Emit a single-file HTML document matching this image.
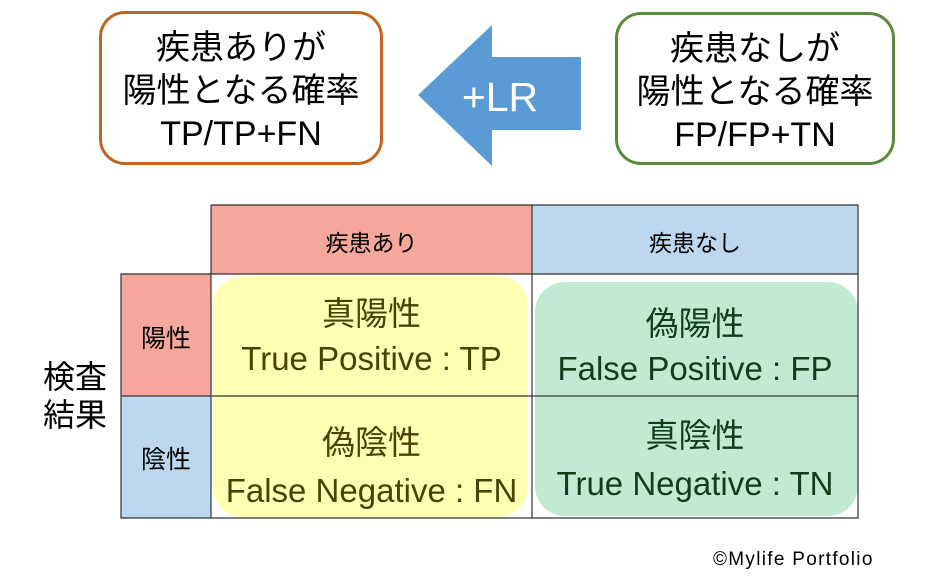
<!DOCTYPE html>
<html><head><meta charset="utf-8"><style>
body{margin:0;width:932px;height:587px;background:#fff;position:relative;overflow:hidden;font-family:"Liberation Sans","Noto Sans CJK JP",sans-serif;}
.a{position:absolute;}
.box{position:absolute;border:3px solid;border-radius:26px;background:#fff;text-align:center;font-size:34px;line-height:43px;color:#000;box-sizing:border-box;padding-top:13px;}
.c{position:absolute;text-align:center;}
</style></head><body>
<div class="box" style="left:99px;top:11px;width:284px;height:154px;border-color:#c0641f;">疾患ありが<br>陽性となる確率<br>TP/TP+FN</div>
<div class="box" style="left:615px;top:12px;width:280px;height:153px;border-color:#5b8a3a;">疾患なしが<br>陽性となる確率<br>FP/FP+TN</div>
<svg class="a" style="left:0;top:0" width="932" height="587">
<polygon points="418,95 492,25 492,57 581,57 581,130 492,130 492,166" fill="#5b9bd5"/>
<text x="500" y="111" font-size="41" fill="#fff" text-anchor="middle" font-family="Liberation Sans, sans-serif">+LR</text>
</svg>
<div class="a" style="left:211px;top:205px;width:321px;height:69px;background:#f4a79a;"></div>
<div class="a" style="left:532px;top:205px;width:326px;height:69px;background:#bdd7ee;"></div>
<div class="a" style="left:121px;top:274px;width:90px;height:122px;background:#f4a79a;"></div>
<div class="a" style="left:121px;top:396px;width:90px;height:122px;background:#bdd7ee;"></div>
<div class="a" style="left:213px;top:276px;width:315px;height:241px;background:#ffffb3;border-radius:30px;"></div>
<div class="a" style="left:535px;top:282px;width:323px;height:234px;background:#c2ead2;border-radius:30px;"></div>
<svg class="a" style="left:0;top:0" width="932" height="587" fill="none" stroke="#333" stroke-width="1.2">
<path d="M211,205H858V518H121V274H858M211,205V518M532,205V518M121,396H858"/>
</svg>
<div class="c" style="left:211px;top:224px;width:321px;font-size:23px;">疾患あり</div>
<div class="c" style="left:532px;top:224px;width:326px;font-size:23px;">疾患なし</div>
<div class="c" style="left:121px;top:319px;width:90px;font-size:25px;">陽性</div>
<div class="c" style="left:121px;top:440px;width:90px;font-size:25px;">陰性</div>
<div class="c" style="left:28px;top:358px;width:94px;font-size:32px;line-height:38px;">検査<br>結果</div>
<div class="c" style="left:211px;top:291px;width:321px;font-size:33px;line-height:45px;color:#4a4300;">真陽性<br>True Positive : TP</div>
<div class="c" style="left:532px;top:301px;width:326px;font-size:33px;line-height:45px;color:#103d1c;">偽陽性<br>False Positive : FP</div>
<div class="c" style="left:211px;top:419px;width:321px;font-size:33px;line-height:48px;color:#4a4300;">偽陰性<br>False Negative : FN</div>
<div class="c" style="left:532px;top:412px;width:326px;font-size:33px;line-height:48px;color:#103d1c;">真陰性<br>True Negative : TN</div>
<div class="a" style="left:713px;top:549px;font-size:19px;letter-spacing:1.3px;">©Mylife Portfolio</div>
</body></html>
